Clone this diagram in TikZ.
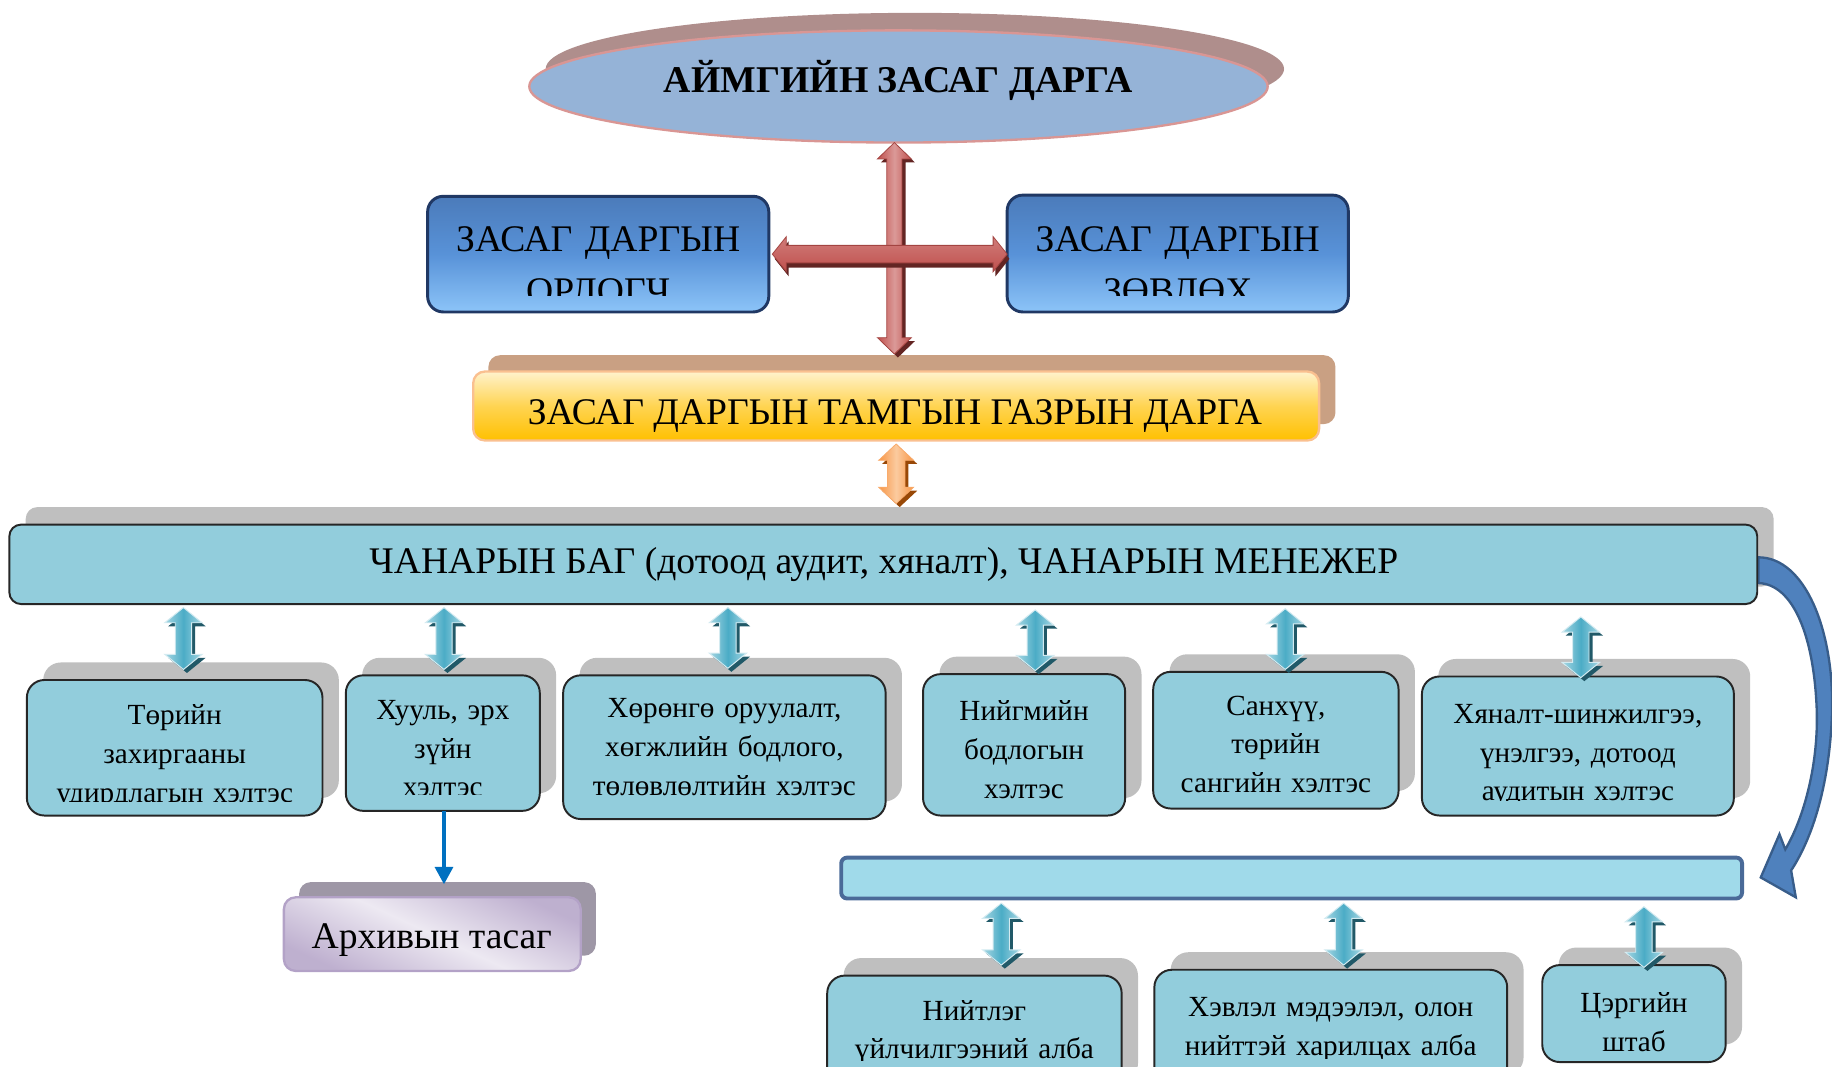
\documentclass[tikz,border=0pt]{standalone}
\usepackage{fontspec}
\setmainfont{Liberation Serif}
\usetikzlibrary{arrows.meta,shapes.geometric}
\definecolor{ellFill}{HTML}{95B3D7}
\definecolor{ellDraw}{HTML}{D99694}
\definecolor{ellShad}{HTML}{AF8E8C}
\definecolor{redA}{HTML}{C0504D}
\definecolor{redL}{HTML}{E6B9B8}
\definecolor{redD}{HTML}{632523}
\definecolor{blueTop}{HTML}{4B7BBA}
\definecolor{blueMid}{HTML}{5892D8}
\definecolor{blueBot}{HTML}{8CC4F8}
\definecolor{blueDraw}{HTML}{203864}
\definecolor{tanShad}{HTML}{C9A083}
\definecolor{orTop}{HTML}{FFF2CC}
\definecolor{orBot}{HTML}{FFC000}
\definecolor{orDraw}{HTML}{FAC090}
\definecolor{orA}{HTML}{F79646}
\definecolor{orL}{HTML}{FBCB9F}
\definecolor{orD}{HTML}{984807}
\definecolor{tealBox}{HTML}{92CDDC}
\definecolor{grayShad}{HTML}{BFBFBF}
\definecolor{tealA}{HTML}{4BACC6}
\definecolor{tealL}{HTML}{B7DEE8}
\definecolor{tealD}{HTML}{215968}
\definecolor{arcBlue}{HTML}{0070C0}
\definecolor{lavL}{HTML}{EDE9F2}
\definecolor{lavD}{HTML}{B3A2C7}
\definecolor{lavShad}{HTML}{9E97A6}
\definecolor{curveFill}{HTML}{4F81BD}
\definecolor{curveDraw}{HTML}{385D8A}
\definecolor{barFill}{HTML}{A0DAEA}
\definecolor{barDraw}{HTML}{4A6A98}

% box node from corner coordinates (display units)
\newcommand\rbox[6]{%
  \pgfmathsetmacro\rbw{(#5-#3)*0.6}%
  \pgfmathsetmacro\rbh{(#6-#4)*0.6}%
  \node[#1, minimum width=\rbw pt, minimum height=\rbh pt] (#2) at ({(#3+#5)/2},{(#4+#6)/2}) {};}

% vertical double block arrow: x, ytop, ybot, shaft half, head half, head length, style, shade
\newcommand\vdarr[8]{%
  \pgfmathsetmacro\vdAx{#1-#5}\pgfmathsetmacro\vdBx{#1-#4}%
  \pgfmathsetmacro\vdCx{#1+#4}\pgfmathsetmacro\vdDx{#1+#5}%
  \pgfmathsetmacro\vdAy{#2+#6}\pgfmathsetmacro\vdBy{#3-#6}%
  \begin{scope}[shift={(3,3)}]
  \fill[#8] (#1,#2) -- (\vdDx,\vdAy) -- (\vdCx,\vdAy) -- (\vdCx,\vdBy) -- (\vdDx,\vdBy) -- (#1,#3) -- (\vdAx,\vdBy) -- (\vdBx,\vdBy) -- (\vdBx,\vdAy) -- (\vdAx,\vdAy) -- cycle;
  \end{scope}
  \path[#7] (#1,#2) -- (\vdDx,\vdAy) -- (\vdCx,\vdAy) -- (\vdCx,\vdBy) -- (\vdDx,\vdBy) -- (#1,#3) -- (\vdAx,\vdBy) -- (\vdBx,\vdBy) -- (\vdBx,\vdAy) -- (\vdAx,\vdAy) -- cycle;}

% horizontal double block arrow: y, xleft, xright, shaft half, head half, head length, style, shade
\newcommand\hdarr[8]{%
  \pgfmathsetmacro\hdAy{#1-#5}\pgfmathsetmacro\hdBy{#1-#4}%
  \pgfmathsetmacro\hdCy{#1+#4}\pgfmathsetmacro\hdDy{#1+#5}%
  \pgfmathsetmacro\hdAx{#2+#6}\pgfmathsetmacro\hdBx{#3-#6}%
  \begin{scope}[shift={(2,4)}]
  \fill[#8] (#2,#1) -- (\hdAx,\hdAy) -- (\hdAx,\hdBy) -- (\hdBx,\hdBy) -- (\hdBx,\hdAy) -- (#3,#1) -- (\hdBx,\hdDy) -- (\hdBx,\hdCy) -- (\hdAx,\hdCy) -- (\hdAx,\hdDy) -- cycle;
  \end{scope}
  \path[#7] (#2,#1) -- (\hdAx,\hdAy) -- (\hdAx,\hdBy) -- (\hdBx,\hdBy) -- (\hdBx,\hdAy) -- (#3,#1) -- (\hdBx,\hdDy) -- (\hdBx,\hdCy) -- (\hdAx,\hdCy) -- (\hdAx,\hdDy) -- cycle;}

\begin{document}
\begin{tikzpicture}[x=0.6pt,y=-0.6pt,
  shad/.style={fill=grayShad, rounded corners=9pt, inner sep=0pt, outer sep=0pt},
  tbox/.style={fill=tealBox, draw=black!85, line width=1pt, rounded corners=9pt, inner sep=0pt, outer sep=0pt},
  bluebox/.style={top color=blueTop, bottom color=blueBot, middle color=blueMid, draw=blueDraw, line width=1.5pt, rounded corners=8pt, inner sep=0pt, outer sep=0pt},
  bigtxt/.style={font=\fontsize{19.3pt}{26.8pt}\selectfont, inner sep=0pt, outer sep=0pt},
  boxtxt/.style={font=\fontsize{15pt}{19.8pt}\selectfont, inner sep=0pt, outer sep=0pt, align=center},
  redarr/.style={left color=redA, right color=redA, middle color=redL!70!redA, draw=redA!85!black, line width=0.4pt},
  redarrh/.style={top color=redA!75!white, bottom color=redA, draw=redA!85!black, line width=0.4pt},
  orarr/.style={left color=orA, right color=orA, middle color=orL, draw=orA!80!white, line width=0.4pt},
  tealarr/.style={left color=tealL!85!tealA, right color=tealL!85!tealA, middle color=tealA, draw=tealL!60!white, line width=0.5pt}
]
\useasboundingbox (0,0) rectangle (1568,913);
\clip (0,0) rectangle (1568,913);

% ---------- top ellipse ----------
\node[ellipse, fill=ellShad, minimum width=632*0.6pt, minimum height=96*0.6pt, inner sep=0pt] (els) at (783,59) {};
\node[ellipse, fill=ellFill, draw=ellDraw, line width=1.2pt, minimum width=632*0.6pt, minimum height=96*0.6pt, inner sep=0pt] (el) at (769,74) {};
\node[bigtxt, font=\fontsize{19.4pt}{22pt}\selectfont\bfseries, anchor=base] (elt) at (769,79) {АЙМГИЙН ЗАСАГ ДАРГА};

% ---------- deputy / advisor ----------
\rbox{bluebox}{dep}{366}{168}{658}{267}
\rbox{bluebox}{adv}{862}{167}{1154}{267}
\begin{scope}
  \clip (366,168) rectangle (658,253);
  \node[bigtxt, text width=280*0.6pt, align=center, anchor=base] (dept) at (512,215.5) {ЗАСАГ ДАРГЫН\\ОРЛОГЧ};
\end{scope}
\begin{scope}
  \clip (862,167) rectangle (1154,253);
  \node[bigtxt, text width=280*0.6pt, align=center, anchor=base] (advt) at (1008,215.5) {ЗАСАГ ДАРГЫН\\ЗӨВЛӨХ};
\end{scope}

% ---------- chief of office ----------
\rbox{fill=tanShad, rounded corners=6pt, inner sep=0pt}{tams}{418}{304}{1143}{363}
\vdarr{765.5}{122}{303}{6.5}{14.5}{14}{redarr}{redD}
\hdarr{217.5}{661}{862}{7.5}{15}{12}{redarrh}{redD}
\rbox{top color=orTop, bottom color=orBot, middle color=orTop!40!orBot, draw=orDraw, line width=1.2pt, rounded corners=6pt, inner sep=0pt}{tam}{405}{318}{1129}{377}
\node[bigtxt, anchor=base] (tamt) at (766,363) {ЗАСАГ ДАРГЫН ТАМГЫН ГАЗРЫН ДАРГА};
\vdarr{767}{380}{431}{7.5}{15}{14}{orarr}{orD}

% ---------- quality team bar ----------
\rbox{shad, rounded corners=6pt}{qbs}{22}{434}{1518}{502}
\fill[curveFill, draw=curveDraw, line width=1.2pt]
  (1505,477) .. controls (1545,477) and (1570,540) .. (1568,610)
  .. controls (1566,670) and (1552,716) .. (1533,745)
  -- (1537,768) -- (1507,751) -- (1523,714) -- (1528,727)
  .. controls (1544,700) and (1556,655) .. (1555,610)
  .. controls (1553,545) and (1535,500) .. (1505,499) -- cycle;
\rbox{tbox, rounded corners=6pt}{qb}{8}{449}{1504}{517}
\node[bigtxt, anchor=base] (qbt) at (756.5,491) {ЧАНАРЫН БАГ (дотоод аудит, хяналт), ЧАНАРЫН МЕНЕЖЕР};

% ---------- departments ----------
\rbox{shad}{d1s}{37}{567}{290}{683}
\rbox{shad}{d2s}{310}{563}{476}{679}
\rbox{shad}{d3s}{496}{563}{772}{686}
\rbox{shad}{d4s}{804}{562}{977}{683}
\rbox{shad}{d5s}{1001}{560}{1211}{677}
\rbox{shad}{d6s}{1231}{564}{1498}{683}
\rbox{tbox}{d1}{23}{582}{276}{698}
\rbox{tbox}{d2}{296}{578}{462}{694}
\rbox{tbox}{d3}{482}{578}{758}{701}
\rbox{tbox}{d4}{790}{577}{963}{698}
\rbox{tbox}{d5}{987}{575}{1197}{692}
\rbox{tbox}{d6}{1217}{579}{1484}{698}

\begin{scope}
  \clip (23,582) rectangle (276,686);
  \node[boxtxt, text width=245*0.6pt, anchor=base] (d1t) at (149.5,620.5) {Төрийн\\захиргааны\\удирдлагын хэлтэс};
\end{scope}
\begin{scope}
  \clip (296,578) rectangle (462,680);
  \node[boxtxt, text width=160*0.6pt, anchor=base] (d2t) at (379,616) {Хууль, эрх\\зүйн\\хэлтэс};
\end{scope}
\node[boxtxt, text width=270*0.6pt, anchor=base] (d3t) at (620,614.5) {Хөрөнгө оруулалт,\\хөгжлийн бодлого,\\төлөвлөлтийн хэлтэс};
\node[boxtxt, text width=165*0.6pt, anchor=base] (d4t) at (876.5,617) {Нийгмийн\\бодлогын\\хэлтэс};
\node[boxtxt, text width=200*0.6pt, anchor=base] (d5t) at (1092,612) {Санхүү,\\төрийн\\сангийн хэлтэс};
\begin{scope}
  \clip (1217,579) rectangle (1484,685);
  \node[boxtxt, text width=260*0.6pt, anchor=base] (d6t) at (1350.5,619.5) {Хяналт-шинжилгээ,\\үнэлгээ, дотоод\\аудитын хэлтэс};
\end{scope}

\vdarr{157}{520}{573}{7}{16}{13}{tealarr}{tealD}
\vdarr{380}{520}{573}{7}{16}{13}{tealarr}{tealD}
\vdarr{623}{520}{572}{7}{16}{13}{tealarr}{tealD}
\vdarr{886}{522}{574}{7}{16}{13}{tealarr}{tealD}
\vdarr{1100}{521}{573}{7}{16}{13}{tealarr}{tealD}
\vdarr{1353}{528}{580}{7}{16}{13}{tealarr}{tealD}

% ---------- archive ----------
\rbox{fill=lavShad, rounded corners=6pt, inner sep=0pt}{arcs}{256}{755}{510}{818}
\draw[arcBlue, line width=2.4pt, -{Triangle[length=9pt,width=9pt]}] (d2.south -| 380,0) -- (380,757);
\rbox{top color=lavD!85!white, bottom color=lavD!85!white, middle color=lavL, shading angle=-25, draw=lavD, line width=1.2pt, rounded corners=6pt, inner sep=0pt}{arc}{243}{768}{497}{831}
\node[bigtxt, anchor=base] (arct) at (369.5,811.5) {Архивын тасаг};

% ---------- lower bar and units ----------
\rbox{fill=barFill, draw=barDraw, line width=2pt, rounded corners=3pt, inner sep=0pt}{lb}{720}{734}{1491}{769}

\rbox{shad}{u1s}{722}{820}{974}{925}
\rbox{shad}{u2s}{1002}{815}{1304}{920}
\rbox{shad}{u3s}{1334}{811}{1491}{894}
\rbox{tbox}{u1}{708}{835}{960}{940}
\rbox{tbox}{u2}{988}{830}{1290}{935}
\rbox{tbox}{u3}{1320}{826}{1477}{909}
\begin{scope}
  \clip (708,835) rectangle (960,908);
  \node[boxtxt, text width=245*0.6pt, anchor=base] (u1t) at (834,873) {Нийтлэг\\үйлчилгээний алба};
\end{scope}
\begin{scope}
  \clip (988,830) rectangle (1290,906);
  \node[boxtxt, text width=298*0.6pt, anchor=base] (u2t) at (1139,870) {Хэвлэл мэдээлэл, олон\\нийттэй харилцах алба};
\end{scope}
\node[boxtxt, text width=150*0.6pt, anchor=base] (u3t) at (1398.5,867) {Цэргийн\\штаб};

\vdarr{857}{773}{826}{7}{16}{13}{tealarr}{tealD}
\vdarr{1150}{773}{826}{7}{16}{13}{tealarr}{tealD}
\vdarr{1407}{776}{828}{7}{16}{13}{tealarr}{tealD}
\end{tikzpicture}
\end{document}
